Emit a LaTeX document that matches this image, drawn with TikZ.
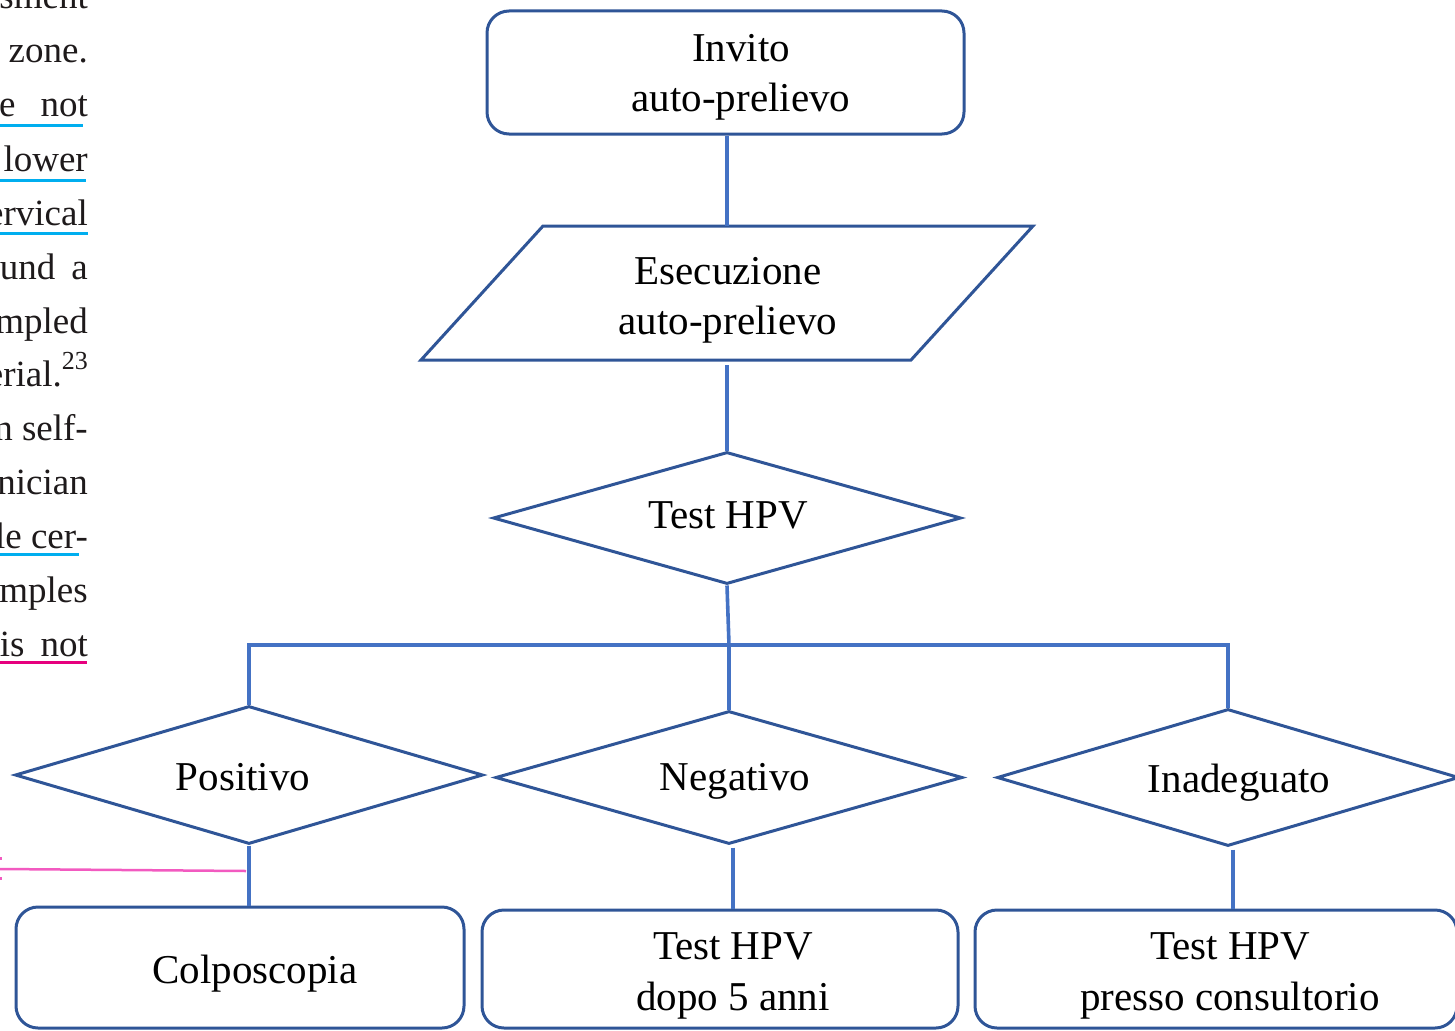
\documentclass[tikz,border=0pt]{standalone}
\usepackage{fontspec}
\setmainfont{Liberation Serif}
\usetikzlibrary{shapes.geometric,calc}
\definecolor{shapeblue}{RGB}{47,85,151}
\definecolor{linkblue}{RGB}{68,114,196}
\definecolor{ulcyan}{RGB}{0,174,239}
\definecolor{ulpink}{RGB}{230,0,126}
\definecolor{notepink}{RGB}{242,90,192}
\definecolor{bodytext}{RGB}{30,26,27}
\begin{document}
\begin{tikzpicture}[x=1pt,y=-1pt,
  boxshape/.style={draw=shapeblue,line width=3pt,rectangle,rounded corners=22pt,inner sep=0pt},
  decshape/.style={draw=shapeblue,line width=3pt,diamond,inner sep=0pt},
  ghost/.style={rectangle,inner sep=0pt},
  lbl/.style={inner sep=0pt,anchor=base,align=center,font=\fontsize{41}{50}\selectfont},
  body/.style={inner sep=0pt,anchor=base east,text=bodytext,font=\fontsize{37}{44}\selectfont},
  link/.style={draw=linkblue,line width=3.6pt},
  uline/.style={line width=3pt}]
\useasboundingbox (0,0) rectangle (1455,1030);
\clip (0,0) rectangle (1455,1030);

% ---- left page text (cut off) ----
\node[body] (t0) at (88,9) {sment};
\node[body] (t1) at (88,63) {zone.};
\node[body] (t2) at (88,117) {e\hspace{25pt}not};
\node[body] (t3) at (88,171) {lower};
\node[body] (t4) at (88,225) {ervical};
\node[body] (t5) at (88,279) {und\hspace{16pt}a};
\node[body] (t6) at (88,333) {mpled};
\node[body] (t7) at (88,386) {erial.\raisebox{17pt}{\fontsize{26}{26}\selectfont 23}};
\node[body] (t8) at (88,440) {n self-};
\node[body] (t9) at (88,494) {nician};
\node[body] (t10) at (88,548) {le cer-};
\node[body] (t11) at (88,602) {mples};
\node[body] (t12) at (88,656) {is\hspace{16pt}not};
\draw[uline,ulcyan] (0,126) -- (83,126);
\draw[uline,ulcyan] (0,180) -- (86,180);
\draw[uline,ulcyan] (0,233) -- (88,233);
\draw[uline,ulcyan] (0,554) -- (79,554);
\draw[uline,ulpink] (0,662) -- (87,662);

% ---- shapes ----
\node[boxshape,minimum width=477pt,minimum height=123pt] (inv) at (725.5,72.5) {};
\node[ghost,minimum width=490pt,minimum height=134pt] (esec) at (727,293) {};
\draw[shapeblue,line width=3pt] (543,226) -- (1033,226) -- (911,360) -- (421,360) -- cycle;
\node[decshape,minimum width=468pt,minimum height=132pt] (hpv) at (727,518) {};
\node[decshape,minimum width=468pt,minimum height=138pt] (pos) at (249,775) {};
\node[decshape,minimum width=467pt,minimum height=133pt] (neg) at (729,777.5) {};
\node[decshape,minimum width=462pt,minimum height=137pt] (ina) at (1228,777.5) {};
\node[boxshape,minimum width=448pt,minimum height=121pt] (colp) at (240,967.5) {};
\node[boxshape,minimum width=476pt,minimum height=118pt] (dopo) at (720,969) {};
\node[boxshape,minimum width=482pt,minimum height=118pt] (cons) at (1216,969) {};

% ---- labels ----
\node[lbl] (linv1) at (741,62) {Invito};
\node[lbl] (linv2) at (741,112) {auto-prelievo};
\node[lbl] (lesec1) at (728,284) {Esecuzione};
\node[lbl] (lesec2) at (728,334) {auto-prelievo};
\node[lbl] (lhpv) at (728,528) {Test HPV};
\node[lbl] (lpos) at (243,790) {Positivo};
\node[lbl] (lneg) at (735,790) {Negativo};
\node[lbl] (lina) at (1239,792) {Inadeguato};
\node[lbl] (lcolp) at (255,983) {Colposcopia};
\node[lbl] (ldopo1) at (733,959) {Test HPV};
\node[lbl] (ldopo2) at (733,1010) {dopo 5 anni};
\node[lbl] (lcons1) at (1230,959) {Test HPV};
\node[lbl] (lcons2) at (1230,1010) {presso consultorio};

% ---- connectors ----
\coordinate (j) at (729,645);
\draw[link] (esec.north |- inv.south) -- (esec.north);
\draw[link] ([yshift=-5pt]hpv.north |- esec.south) -- (hpv.north);
\draw[link] (hpv.south) -- (j);
\draw[link] (pos.north) -- (pos.north |- j) -- (ina.north |- j) -- (ina.north);
\draw[link] (j) -- (neg.north);
\draw[link] (pos.south) -- (pos.south |- colp.north);
\draw[link] ([xshift=4pt,yshift=-2pt]neg.south) -- ([xshift=4pt]neg.south |- dopo.north);
\draw[link] ([xshift=5pt,yshift=-2pt]ina.south) -- ([xshift=5pt]ina.south |- cons.north);

% ---- pink annotation line ----
\coordinate (pinkend) at (246,871);
\draw[notepink,line width=2.5pt] (0,869) -- (pinkend);
\fill[notepink] (0,856.5) rectangle (2,859.5);
\fill[notepink] (0,876.5) rectangle (2,879.5);
\end{tikzpicture}
\end{document}
